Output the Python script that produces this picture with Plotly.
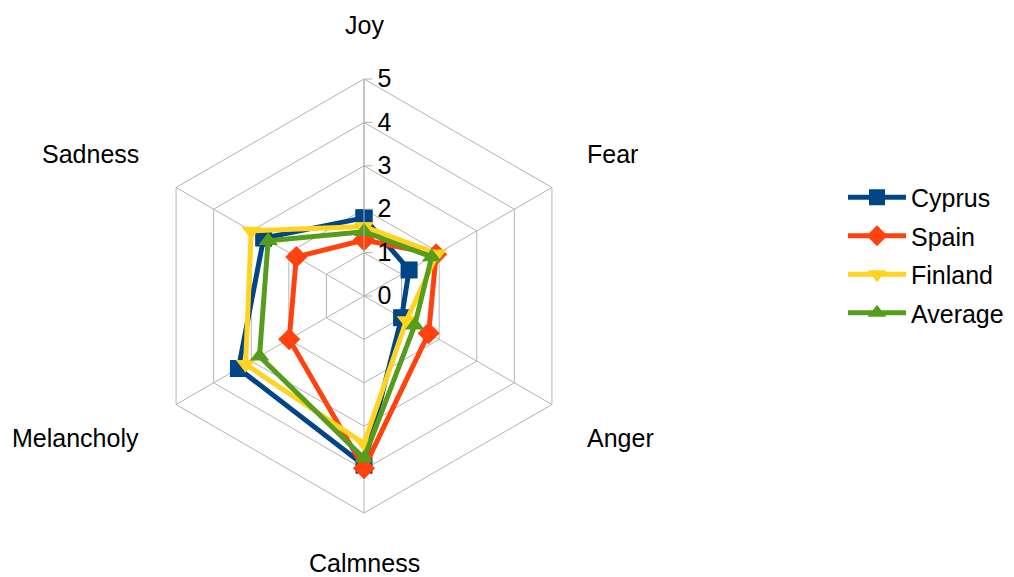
import plotly.graph_objects as go
import math

categories = ["Joy", "Fear", "Anger", "Calmness", "Melancholy", "Sadness"]
cyprus = [1.8, 1.2, 1.0, 3.9, 3.34, 2.67]
spain = [1.29, 1.92, 1.72, 3.97, 1.99, 1.8]
finland = [1.6, 1.95, 1.13, 3.4, 3.15, 3.0]
average = [1.48, 1.8, 1.35, 3.74, 2.78, 2.55]
radial_ticks = [0, 1, 2, 3, 4, 5]

series = [
    ("Cyprus", cyprus, "#004586", "square"),
    ("Spain", spain, "#ff420e", "diamond"),
    ("Finland", finland, "#ffd320", "triangle-down"),
    ("Average", average, "#579d1c", "triangle-up"),
]

fig = go.Figure()
for name, vals, color, sym in series:
    fig.add_trace(go.Scatterpolar(
        r=vals + vals[:1],
        theta=categories + categories[:1],
        name=name,
        legendgroup=name,
        mode="lines+markers",
        line=dict(color=color, width=5),
        marker=dict(symbol=sym, size=17, color=color),
    ))

OFF = 8  # page body margin
W, H = 1014 - OFF, 577 - OFF
cx, cy, R = 364 - OFF, 296 - OFF, 217
dom_x = [(cx - R) / W, (cx + R) / W]
dom_y = [(H - (cy + R)) / H, (H - (cy - R)) / H]

grid = "#b3b3b3"
FS = 25
fig.update_layout(
    width=W, height=H,
    margin=dict(l=0, r=0, t=0, b=0),
    paper_bgcolor="white",
    font=dict(family="Liberation Sans, Arial, sans-serif", size=FS, color="black"),
    polar=dict(
        domain=dict(x=dom_x, y=dom_y),
        bgcolor="white",
        gridshape="linear",
        radialaxis=dict(
            range=[0, 5], tickvals=radial_ticks, angle=90, tickangle=90,
            showline=True, linecolor=grid, linewidth=1,
            gridcolor=grid, gridwidth=1,
            ticks="outside", ticklen=8, tickcolor=grid,
            tickfont=dict(size=FS, color="black"),
        ),
        angularaxis=dict(
            direction="clockwise", rotation=90,
            showline=True, linecolor=grid, linewidth=1,
            gridcolor=grid, gridwidth=1,
            showticklabels=False, ticks="",
        ),
    ),
    legend=dict(
        x=(843 - OFF) / W, y=1 - (255 - OFF) / H, xanchor="left", yanchor="middle",
        font=dict(size=FS), tracegroupgap=3, itemwidth=58,
    ),
    showlegend=True,
)

# Category labels placed outside the hexagon
n = len(categories)
for i, cat in enumerate(categories):
    ang = math.radians(90 - 360 * i / n)
    vx = cx + R * math.cos(ang)
    vy = cy - R * math.sin(ang)
    if i == 0:
        px, py, xa = vx, vy - 54, "center"
    elif i == 3:
        px, py, xa = vx, vy + 50, "center"
    elif math.cos(ang) > 0:
        px, py, xa = vx + 33, vy - 33 * (1 if math.sin(ang) > 0 else -1), "left"
    else:
        px, py, xa = vx - 35, vy - 33 * (1 if math.sin(ang) > 0 else -1), "right"
    fig.add_annotation(
        x=px / W, y=1 - py / H, xref="paper", yref="paper",
        text=cat, showarrow=False, font=dict(size=FS),
        xanchor=xa, yanchor="middle",
    )

fig.write_html("out.html")
